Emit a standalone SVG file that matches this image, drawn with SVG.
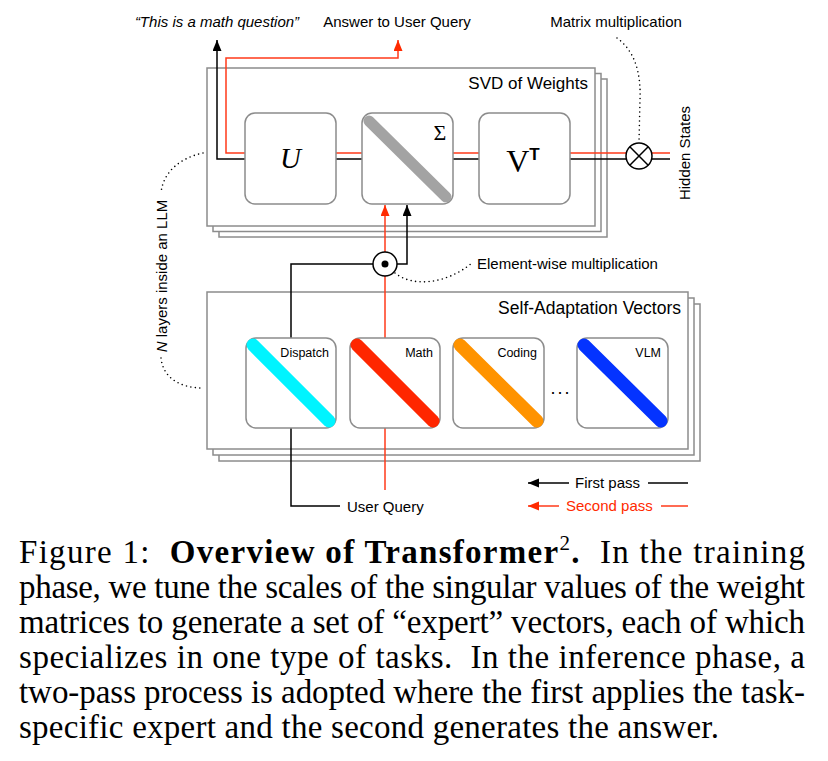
<svg xmlns="http://www.w3.org/2000/svg" width="828" height="761" viewBox="0 0 828 761">
<style>
.sans{font-family:"Liberation Sans",Arial,sans-serif;fill:#000}
.lbl{font-size:15px}
.layer{fill:#fff;stroke:#8c8c8c;stroke-width:1.5}
.box{fill:#fff;stroke:#8c8c8c;stroke-width:1.5}
.blk{fill:none;stroke:#000;stroke-width:1.5}
.red{fill:none;stroke:#ff3a1a;stroke-width:1.5}
.dot{fill:none;stroke:#000;stroke-width:1.6;stroke-dasharray:0 4.5;stroke-linecap:round}
.diag{stroke-width:13;stroke-linecap:round}
.cap{font-family:"Liberation Serif","Times New Roman",serif;font-size:33px;fill:#000}
</style>
<defs>
<marker id="ab" markerUnits="userSpaceOnUse" markerWidth="12" markerHeight="10" refX="11" refY="4.5" orient="auto"><path d="M0,0 L11,4.5 L0,9 z" fill="#000"/></marker>
<marker id="ar" markerUnits="userSpaceOnUse" markerWidth="12" markerHeight="10" refX="11" refY="4.5" orient="auto"><path d="M0,0 L11,4.5 L0,9 z" fill="#ff2a00"/></marker>
</defs>

<g id="svd-stack">
<rect class="layer" x="219" y="79" width="388" height="158"/>
<rect class="layer" x="213" y="73.5" width="388" height="158"/>
<rect class="layer" x="207" y="68" width="388" height="158"/>
<text class="sans" x="588" y="89" font-size="17" text-anchor="end">SVD of Weights</text>
</g>

<g id="sav-stack">
<rect class="layer" x="219" y="304" width="481" height="157"/>
<rect class="layer" x="213" y="298" width="481" height="157"/>
<rect class="layer" x="207" y="292" width="481" height="157"/>
<text class="sans" x="681" y="314" font-size="17.5" text-anchor="end">Self-Adaptation Vectors</text>
</g>

<g id="connectors">
<path class="blk" d="M245,159 H217 V40" marker-end="url(#ab)"/>
<path class="red" d="M245,153 H226 V58 H398 V40" marker-end="url(#ar)"/>
<path class="blk" d="M336,159 H362 M453,159 H479 M570,159 H626.5 M651.5,159 H670"/>
<path class="red" d="M336,153 H362 M453,153 H479 M570,153 H626.5 M651.5,153 H670"/>
<path class="blk" d="M291,338 V264 H373"/>
<path class="blk" d="M397,264 H407 V205" marker-end="url(#ab)"/>
<path class="red" d="M385,252 V205" marker-end="url(#ar)"/>
<path class="red" d="M385,490 V276"/>
<path class="blk" d="M291,428 V506 H340"/>
<path class="dot" d="M203,153 C180,158 163,172 161,193"/>
<path class="dot" d="M161,358 C163,378 180,388 203,388"/>
<path class="dot" d="M617,38 C636,52 641,75 640,100 L639,142"/>
<path class="dot" d="M395,273 C412,287 445,285 472,263"/>
<path d="M569,483 H528" class="blk" marker-end="url(#ab)"/>
<path d="M648,483 H688" class="blk"/>
<path d="M559,506 H528" class="red" marker-end="url(#ar)"/>
<path d="M661,506 H688" class="red"/>
</g>

<g id="node-U">
<rect class="box" x="245" y="113" width="91" height="91" rx="10"/>
<text x="290.5" y="168" font-family="Liberation Serif,serif" font-style="italic" font-size="29" text-anchor="middle">U</text>
</g>
<g id="node-Sigma">
<rect class="box" x="362" y="113" width="91" height="91" rx="10"/>
<line x1="369" y1="121" x2="446" y2="197" stroke="#a3a3a3" stroke-width="11" stroke-linecap="round"/>
<text x="440" y="140" font-family="Liberation Serif,serif" font-size="22" text-anchor="middle">Σ</text>
</g>
<g id="node-VT">
<rect class="box" x="479" y="113" width="91" height="91" rx="10"/>
<text x="523" y="172" font-family="Liberation Serif,serif" font-size="32" text-anchor="middle">V<tspan class="sans" font-size="17" font-weight="bold" dy="-12">T</tspan></text>
</g>
<g id="node-mult">
<circle cx="639" cy="156" r="13" fill="#fff" stroke="#000" stroke-width="1.5"/>
<path d="M629.8,146.8 L648.2,165.2 M648.2,146.8 L629.8,165.2" stroke="#000" stroke-width="1.5"/>
</g>
<g id="node-ewmult">
<circle cx="385" cy="264" r="12" fill="#fff" stroke="#000" stroke-width="1.5"/>
<circle cx="385" cy="264" r="3.5" fill="#000"/>
</g>

<g id="node-dispatch">
<rect class="box" x="246" y="338" width="90" height="90" rx="10"/>
<line class="diag" x1="253" y1="345" x2="329" y2="421" stroke="#00f4ff"/>
<text class="sans" x="329" y="357" font-size="12.5" text-anchor="end">Dispatch</text>
</g>
<g id="node-math">
<rect class="box" x="350" y="338" width="90" height="90" rx="10"/>
<line class="diag" x1="357" y1="345" x2="433" y2="421" stroke="#ff2600"/>
<text class="sans" x="433" y="357" font-size="12.5" text-anchor="end">Math</text>
</g>
<g id="node-coding">
<rect class="box" x="453" y="338" width="91" height="90" rx="10"/>
<line class="diag" x1="460" y1="345" x2="537" y2="421" stroke="#ff9300"/>
<text class="sans" x="537" y="357" font-size="12.5" text-anchor="end">Coding</text>
</g>
<text class="sans" x="561" y="394" font-size="18" text-anchor="middle" letter-spacing="2">...</text>
<g id="node-vlm">
<rect class="box" x="577" y="338" width="91" height="90" rx="10"/>
<line class="diag" x1="584" y1="345" x2="661" y2="421" stroke="#0433ff"/>
<text class="sans" x="661" y="357" font-size="12.5" text-anchor="end">VLM</text>
</g>

<g id="labels">
<text class="sans lbl" x="217" y="27" font-style="italic" text-anchor="middle">“This is a math question”</text>
<text class="sans lbl" x="397" y="27" text-anchor="middle">Answer to User Query</text>
<text class="sans lbl" x="616" y="27" text-anchor="middle">Matrix multiplication</text>
<text class="sans lbl" transform="translate(690,153) rotate(-90)" text-anchor="middle">Hidden States</text>
<text class="sans lbl" transform="translate(167,276) rotate(-90)" text-anchor="middle"><tspan font-style="italic">N</tspan> layers inside an LLM</text>
<text class="sans lbl" x="477" y="269">Element-wise multiplication</text>
<text class="sans lbl" x="347" y="512">User Query</text>
<text class="sans lbl" x="575" y="488">First pass</text>
<text class="sans lbl" x="566" y="511" style="fill:#ff2a00">Second pass</text>
</g>

<g id="caption">
<text class="cap" x="19" y="563" textLength="786" lengthAdjust="spacing">Figure 1:&#160; <tspan font-weight="bold">Overview of Transformer</tspan><tspan font-size="21" dy="-13">2</tspan><tspan font-weight="bold" dy="13">.</tspan>&#160; In the training</text>
<text class="cap" x="19" y="598" textLength="786" lengthAdjust="spacing">phase, we tune the scales of the singular values of the weight</text>
<text class="cap" x="19" y="633" textLength="786" lengthAdjust="spacing">matrices to generate a set of “expert” vectors, each of which</text>
<text class="cap" x="19" y="668" textLength="786" lengthAdjust="spacing">specializes in one type of tasks.&#160; In the inference phase, a</text>
<text class="cap" x="19" y="703" textLength="786" lengthAdjust="spacing">two-pass process is adopted where the first applies the task-</text>
<text class="cap" x="19" y="738" textLength="700" lengthAdjust="spacing">specific expert and the second generates the answer.</text>
</g>
</svg>
